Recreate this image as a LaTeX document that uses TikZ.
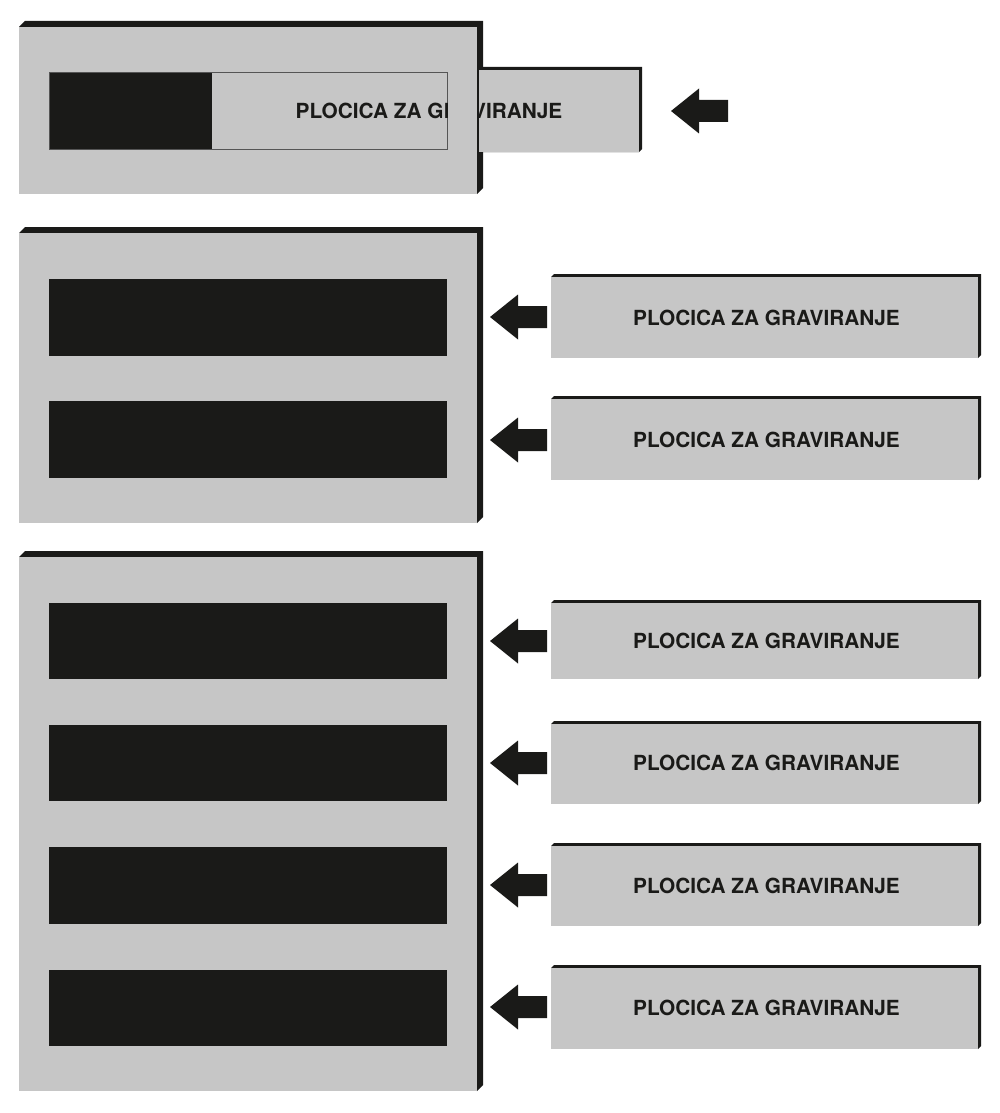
\documentclass[tikz,border=0pt]{standalone}
\usepackage{fontspec}
\setmainfont{TeX Gyre Heros}
\definecolor{dk}{HTML}{1A1A18}
\definecolor{lg}{HTML}{C6C6C6}
\definecolor{sl}{HTML}{555555}
\newcommand\bevbox[5]{%
  \fill[dk] (#1,#2) -- (#1+#5,#2-#5) -- (#3+#5,#2-#5) -- (#3+#5,#4-#5) -- (#3,#4) -- cycle;
  \fill[lg] (#1,#2) rectangle (#3,#4);}
\tikzset{
  platetext/.style={font=\fontsize{20.8}{24}\selectfont\bfseries, text=dk, inner sep=0pt, anchor=center},
  slotbox/.style={fill=dk},
  pics/pusharrow/.style={code={%
    \fill[dk] (0,0) -- (28,-22.5) -- (28,-11) -- (57,-11) -- (57,11) -- (28,11) -- (28,22.5) -- cycle;}}
}
\begin{document}
\begin{tikzpicture}[x=1pt,y=-1pt]
\useasboundingbox (0,0) rectangle (1000,1113);
% ---------- panel 1 ----------
\bevbox{19}{27}{477}{194}{6}
\fill[dk] (49,72) rectangle (212,149);
\fill[lg] (212,72) rectangle (447,149);
\draw[sl, line width=0.8pt] (49,72) rectangle (447,149);
% outer part of the plate
\fill[dk] (479,67) -- (642,67) -- (642,149) -- (639,152) -- (479,152) -- cycle;
\fill[lg] (479,70) rectangle (639,152);
\begin{scope}
  \clip (212,72) rectangle (447,149) (479,70) rectangle (639,152);
  \node[platetext] (t0) at (429,111) {PLOCICA ZA GRAVIRANJE};
\end{scope}
\pic (a0) at (671,111) {pusharrow};
% ---------- panel 2 ----------
\bevbox{19}{233}{477}{523}{6}
\fill[slotbox] (49,279) rectangle (447,356);
\fill[slotbox] (49,401) rectangle (447,478);
\bevbox{551}{277}{978}{358}{3}
\bevbox{551}{399}{978}{480}{3}
\node[platetext] (t1) at (766.5,318) {PLOCICA ZA GRAVIRANJE};
\node[platetext] (t2) at (766.5,440) {PLOCICA ZA GRAVIRANJE};
\pic (a1) at (490,317) {pusharrow};
\pic (a2) at (490,440) {pusharrow};
% ---------- panel 3 ----------
\bevbox{19}{557}{477}{1091}{6}
\fill[slotbox] (49,603) rectangle (447,679);
\fill[slotbox] (49,725) rectangle (447,801);
\fill[slotbox] (49,847) rectangle (447,924);
\fill[slotbox] (49,970) rectangle (447,1046);
\bevbox{551}{603}{978}{679}{3}
\bevbox{551}{724}{978}{804}{3}
\bevbox{551}{846}{978}{926}{3}
\bevbox{551}{968}{978}{1049}{3}
\node[platetext] (t3) at (766.5,641) {PLOCICA ZA GRAVIRANJE};
\node[platetext] (t4) at (766.5,763) {PLOCICA ZA GRAVIRANJE};
\node[platetext] (t5) at (766.5,886) {PLOCICA ZA GRAVIRANJE};
\node[platetext] (t6) at (766.5,1008) {PLOCICA ZA GRAVIRANJE};
\pic (a3) at (490,641) {pusharrow};
\pic (a4) at (490,763) {pusharrow};
\pic (a5) at (490,885) {pusharrow};
\pic (a6) at (490,1007) {pusharrow};
\end{tikzpicture}
\end{document}
